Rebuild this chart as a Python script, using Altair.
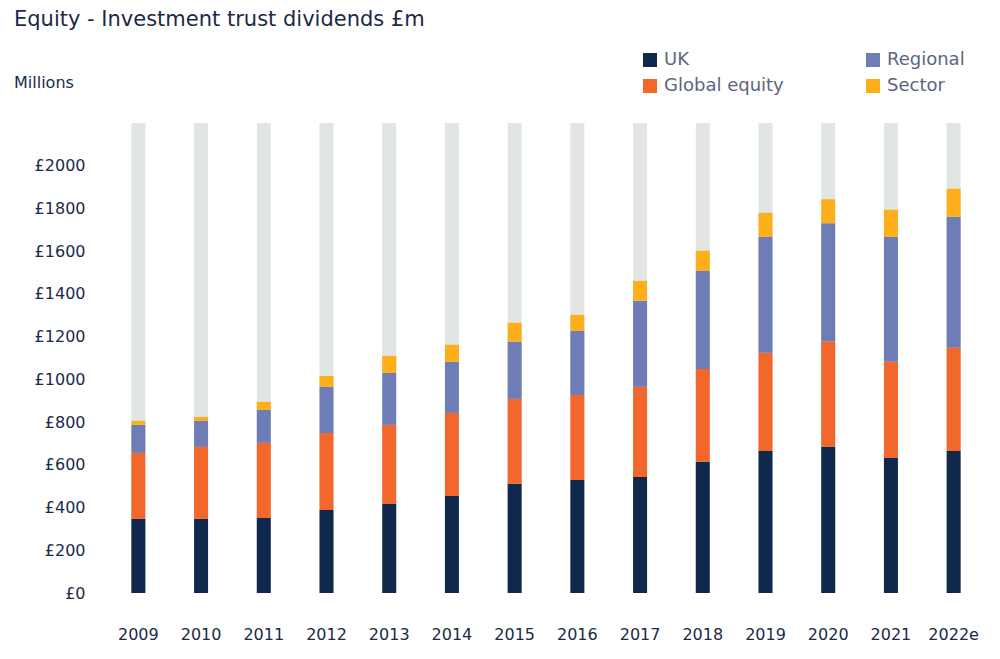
import altair as alt
import pandas as pd

years = ["2009", "2010", "2011", "2012", "2013", "2014", "2015", "2016",
         "2017", "2018", "2019", "2020", "2021", "2022e"]
uk = [347, 347, 351, 389, 417, 454, 511, 529, 543, 614, 665, 684, 632, 665]
global_eq = [309, 337, 352, 360, 370, 389, 398, 398, 422, 435, 459, 494, 450, 483]
regional = [131, 122, 154, 216, 243, 239, 267, 300, 403, 459, 543, 553, 585, 613]
sector = [19, 18, 38, 51, 80, 80, 89, 75, 93, 94, 113, 112, 127, 131]
background_max = 2200

series_names = ["UK", "Global equity", "Regional", "Sector"]
colors = {"UK": "#10284B", "Global equity": "#F2682C", "Regional": "#6E7DB6", "Sector": "#FDAF1B"}
title_text = "Equity - Investment trust dividends £m"
unit_text = "Millions"

rows = []
for i, y in enumerate(years):
    for k, (name, vals) in enumerate(zip(series_names, [uk, global_eq, regional, sector])):
        rows.append({"year": y, "series": name, "value": vals[i], "order": k})
df = pd.DataFrame(rows)
bg = pd.DataFrame({"year": years, "value": [background_max] * len(years)})

FONT = "DejaVu Sans"
TEXT = "#1B2A47"

x_enc = alt.X("year:N", sort=years, title=None,
              scale=alt.Scale(paddingInner=0, paddingOuter=0),
              axis=alt.Axis(labelAngle=0, ticks=False, domain=False, labelPadding=33,
                            labelFontSize=16, labelColor=TEXT, labelFont=FONT,
                            labelBaseline="top"))
y_scale = alt.Scale(domain=[0, background_max], nice=False)

back = alt.Chart(bg).mark_bar(size=14, color="#E2E6E3").encode(
    x=x_enc,
    y=alt.Y("value:Q", scale=y_scale, title=None,
            axis=alt.Axis(values=list(range(0, 2001, 200)), labelExpr="'£' + datum.value",
                          grid=False, ticks=False, domain=False, labelPadding=22,
                          labelFontSize=16, labelColor=TEXT, labelFont=FONT)),
)

bars = alt.Chart(df).mark_bar(size=14).encode(
    x=alt.X("year:N", sort=years),
    y=alt.Y("value:Q", stack="zero", scale=y_scale),
    color=alt.Color("series:N",
                    scale=alt.Scale(domain=series_names, range=[colors[s] for s in series_names]),
                    legend=alt.Legend(title=None, orient="none", legendX=534, legendY=-72,
                                      columns=2, symbolType="square", symbolSize=196,
                                      symbolStrokeWidth=0, symbolOpacity=1,
                                      labelFontSize=18, labelColor="#5B6680", labelFont=FONT,
                                      columnPadding=80, rowPadding=8, labelOffset=5)),
    order=alt.Order("order:Q"),
)

title = alt.Chart(pd.DataFrame({"t": [title_text]})).mark_text(
    align="left", baseline="top", fontSize=21, font=FONT, color=TEXT
).encode(x=alt.value(-93), y=alt.value(-114), text="t:N")

unit = alt.Chart(pd.DataFrame({"t": [unit_text]})).mark_text(
    align="left", baseline="top", fontSize=16, font=FONT, color=TEXT
).encode(x=alt.value(-93), y=alt.value(-48), text="t:N")

chart = alt.layer(back, bars, title, unit).properties(
    width=878, height=470,
    autosize="none",
    padding={"left": 99, "top": 115, "right": 0, "bottom": 50},
).configure_view(stroke=None)

chart.save("out.html", embed_options={"renderer": "svg", "actions": False})
